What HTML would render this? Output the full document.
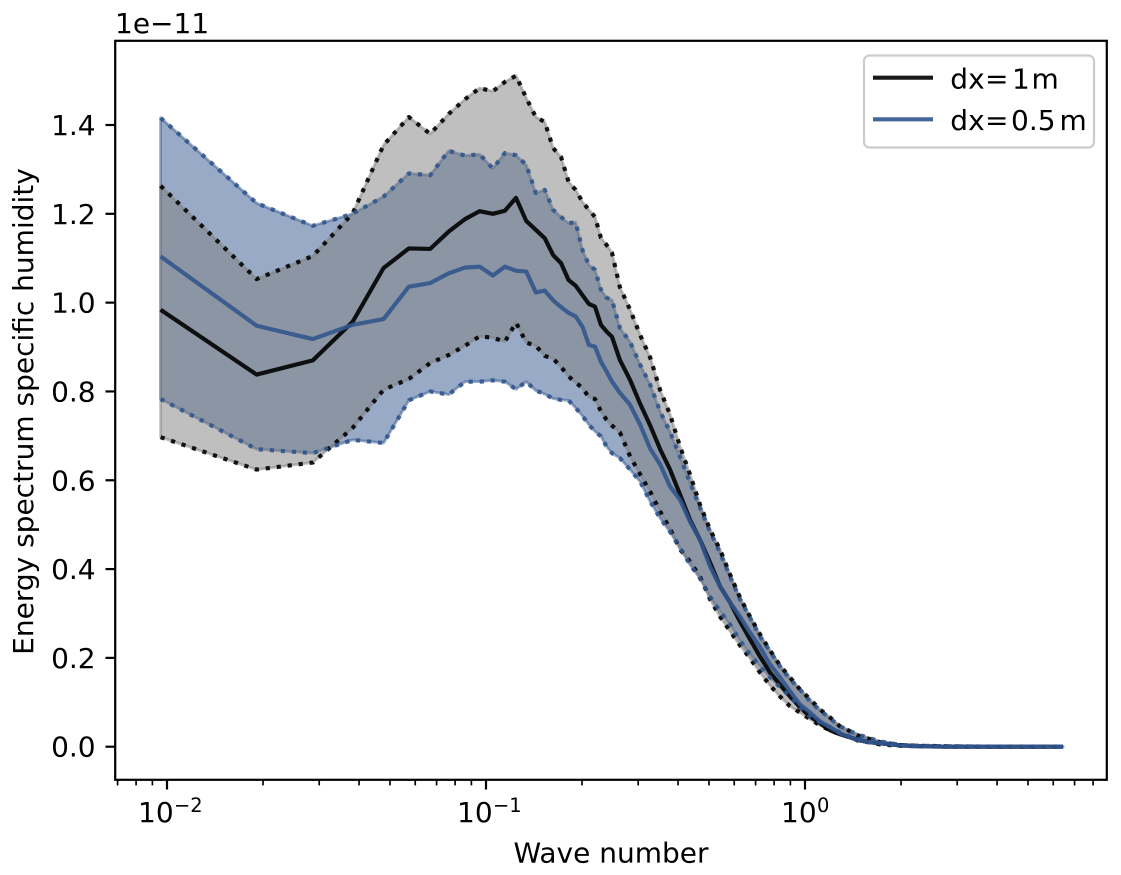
<!DOCTYPE html>
<html>
<head>
<meta charset="utf-8">
<title>Energy spectrum specific humidity</title>
<style>
html,body{margin:0;padding:0;background:#fff;}
svg{display:block;}
text{font-family:"DejaVu Sans",sans-serif;font-size:28px;fill:#000;}
</style>
</head>
<body>
<svg id="chart" xmlns="http://www.w3.org/2000/svg" width="1121" height="875" viewBox="0 0 1121 875">
  <rect x="0" y="0" width="1121" height="875" fill="#fff"/>
  <g id="marks"></g>
  <g id="ticks"></g>
  <rect x="115.2" y="40.8" width="991.6" height="739" fill="none" stroke="#000" stroke-width="2.2"/>
  <text x="115" y="33">1e−11</text>
  <text x="611" y="862.7" text-anchor="middle">Wave number</text>
  <text transform="translate(33,411.5) rotate(-90)" text-anchor="middle">Energy spectrum specific humidity</text>
  <g>
    <rect x="864" y="55.5" width="230" height="92" rx="5.5" ry="5.5" fill="#fff" fill-opacity="0.8" stroke="#ccc" stroke-width="2.2"/>
    <line x1="873" x2="933" y1="77.7" y2="77.7" stroke="#000" stroke-opacity="0.9" stroke-width="4.17"/>
    <text y="88.3"><tspan x="950.3">dx</tspan><tspan x="985">=</tspan><tspan x="1012">1</tspan><tspan x="1031.5">m</tspan></text>
    <line x1="873" x2="933" y1="119.3" y2="119.3" stroke="#31558d" stroke-opacity="0.9" stroke-width="4.17"/>
    <text y="130"><tspan x="950.3">dx</tspan><tspan x="985">=</tspan><tspan x="1011">0.5</tspan><tspan x="1059.5">m</tspan></text>
  </g>
</svg>
<script>
var waveNumbers = [0.00955,0.0191,0.02865,0.0382,0.04775,0.0573,0.06685,0.0764,0.08595,0.0955,0.10505,0.1146,0.12415,0.1337,0.14325,0.1528,0.16235,0.1719,0.18145,0.191,0.20055,0.2101,0.21965,0.2292,0.23875,0.2483,
0.2628,0.2829,0.3043,0.3272,0.3519,0.3775,0.4057,0.4360,0.4687,0.5038,0.5415,0.5820,0.6256,0.6724,0.7227,0.7768,0.8349,0.8974,0.9646,1.0368,1.1143,1.1976,1.2872,1.3836,1.487,1.598,1.718,
1.985,2.293,2.846,4.08,6.44];

var meanDx1 = [.984,.838,.870,.957,1.078,1.122,1.121,1.160,1.188,1.206,1.200,1.207,1.236,1.184,1.164,1.145,1.107,1.089,1.051,1.038,1.017,.997,.991,.950,.935,.923,
.871,.826,.772,.723,.669,.624,.568,.511,.466,.415,.361,.325,.282,.242,.203,.167,.140,.113,.089,.068,.053,.037,.028,.021,.014,.010,.008,
.003,.001,0,0,0];

var upperDx1 = [1.263,1.053,1.105,1.201,1.355,1.418,1.380,1.425,1.458,1.483,1.476,1.497,1.511,1.461,1.418,1.407,1.348,1.328,1.272,1.254,1.227,1.209,1.193,1.146,1.130,1.112,
1.035,.984,.927,.876,.802,.748,.676,.613,.545,.489,.444,.388,.336,.293,.253,.217,.183,.156,.129,.107,.084,.066,.046,.035,.023,.017,.010,
.004,.002,.001,0,0];

var lowerDx1 = [.697,.624,.640,.718,.804,.828,.864,.882,.903,.924,.921,.912,.955,.910,.903,.880,.874,.855,.834,.820,.808,.787,.783,.755,.736,.723,
.708,.654,.613,.574,.529,.491,.444,.417,.383,.332,.293,.260,.228,.199,.167,.138,.113,.091,.077,.062,.048,.037,.028,.021,.012,.010,.005,
.002,.001,0,0,0];

var meanDx05 = [1.104,.948,.918,.950,.963,1.036,1.044,1.066,1.079,1.081,1.061,1.081,1.072,1.070,1.023,1.027,1.005,.990,.977,.969,.946,.905,.901,.867,.845,.822,
.797,.770,.725,.671,.635,.586,.556,.507,.466,.406,.361,.325,.293,.257,.224,.185,.156,.125,.095,.077,.057,.044,.030,.021,.014,.010,.008,
.003,.001,0,0,0];

var upperDx05 = [1.416,1.224,1.173,1.200,1.239,1.291,1.287,1.342,1.331,1.334,1.302,1.337,1.332,1.310,1.247,1.254,1.209,1.193,1.179,1.181,1.119,1.085,1.074,1.029,1.011,1.006,
.943,.912,.860,.815,.754,.709,.653,.595,.538,.484,.437,.383,.332,.291,.248,.215,.181,.152,.129,.102,.082,.064,.046,.035,.026,.019,.012,
.004,.002,.001,0,0];

var lowerDx05 = [.783,.670,.661,.691,.684,.780,.800,.793,.822,.822,.825,.822,.805,.822,.802,.794,.784,.781,.780,.763,.745,.725,.710,.699,.676,.661,
.650,.624,.597,.552,.514,.484,.448,.410,.379,.338,.305,.275,.239,.208,.181,.156,.134,.113,.089,.068,.055,.044,.032,.023,.017,.010,.008,
.003,.001,0,0,0];

var yTickValues = [0,0.2,0.4,0.6,0.8,1.0,1.2,1.4];
var yTickLabels = ["0.0","0.2","0.4","0.6","0.8","1.0","1.2","1.4"];
var xMajorTicks = [0.01,0.1,1];
var xMajorBases = ["10","10","10"];
var xMajorExponents = ["−2","−1","0"];
var xMinorTicks = [0.007,0.008,0.009,0.02,0.03,0.04,0.05,0.06,0.07,0.08,0.09,0.2,0.3,0.4,0.5,0.6,0.7,0.8,0.9,2,3,4,5,6,7,8];

function xScale(k){ return 805 + 319 * Math.log10(k); }
function yScale(v){ return 746.7 - 444.07 * v; }

var NS = "http://www.w3.org/2000/svg";
var marks = document.getElementById("marks");
var ticks = document.getElementById("ticks");

function make(tag, parent){
  var el = document.createElementNS(NS, tag);
  parent.appendChild(el);
  return el;
}
function linePoints(values){
  return values.map(function(v,i){ return xScale(waveNumbers[i]).toFixed(2)+","+yScale(v).toFixed(2); }).join(" ");
}
function bandPoints(upper, lower){
  var top = upper.map(function(v,i){ return xScale(waveNumbers[i]).toFixed(2)+","+yScale(v).toFixed(2); });
  var bottom = lower.map(function(v,i){ return xScale(waveNumbers[i]).toFixed(2)+","+yScale(v).toFixed(2); }).reverse();
  return top.concat(bottom).join(" ");
}
function styleBand(el, color, opacity){
  el.setAttribute("fill", color);
  el.setAttribute("fill-opacity", opacity);
  el.setAttribute("stroke", color);
  el.setAttribute("stroke-opacity", opacity);
  el.setAttribute("stroke-width", "2.78");
  el.setAttribute("stroke-linejoin", "round");
}
function styleLine(el, color, opacity, dotted){
  el.setAttribute("fill", "none");
  el.setAttribute("stroke", color);
  el.setAttribute("stroke-opacity", opacity);
  el.setAttribute("stroke-width", "4.17");
  el.setAttribute("stroke-linejoin", "round");
  if (dotted) { el.setAttribute("stroke-dasharray", "4.17 6.88"); }
}

var bandBlue = make("polygon", marks);


bandBlue.setAttribute("points", bandPoints(upperDx05, lowerDx05));
styleBand(bandBlue, "#31558d", "0.5");

var bandGray = make("polygon", marks);


bandGray.setAttribute("points", bandPoints(upperDx1, lowerDx1));
styleBand(bandGray, "#7f7f7f", "0.5");

var upperBlack = make("polyline", marks);


upperBlack.setAttribute("points", linePoints(upperDx1));
styleLine(upperBlack, "#000", "0.9", true);

var lowerBlack = make("polyline", marks);


lowerBlack.setAttribute("points", linePoints(lowerDx1));
styleLine(lowerBlack, "#000", "0.9", true);

var meanBlack = make("polyline", marks);


meanBlack.setAttribute("points", linePoints(meanDx1));
styleLine(meanBlack, "#000", "0.9", false);

var upperBlue = make("polyline", marks);


upperBlue.setAttribute("points", linePoints(upperDx05));
styleLine(upperBlue, "#31558d", "0.9", true);

var lowerBlue = make("polyline", marks);


lowerBlue.setAttribute("points", linePoints(lowerDx05));
styleLine(lowerBlue, "#31558d", "0.9", true);

var meanBlue = make("polyline", marks);


meanBlue.setAttribute("points", linePoints(meanDx05));
styleLine(meanBlue, "#31558d", "0.9", false);

yTickValues.forEach(function(v, i){
  var y = yScale(v);
  var tick = make("line", ticks);
  
  
  tick.setAttribute("x1", 115.2);
  tick.setAttribute("x2", 105.5);
  tick.setAttribute("y1", y);
  tick.setAttribute("y2", y);
  tick.setAttribute("stroke", "#000");
  tick.setAttribute("stroke-width", "2.2");
  var label = make("text", ticks);
  
  
  label.setAttribute("x", 95.6);
  label.setAttribute("y", y + 10);
  label.setAttribute("text-anchor", "end");
  label.textContent = yTickLabels[i];
});

xMinorTicks.forEach(function(k){
  var x = xScale(k);
  var tick = make("line", ticks);
  
  
  tick.setAttribute("x1", x);
  tick.setAttribute("x2", x);
  tick.setAttribute("y1", 779.8);
  tick.setAttribute("y2", 785.4);
  tick.setAttribute("stroke", "#000");
  tick.setAttribute("stroke-width", "1.67");
});

xMajorTicks.forEach(function(k, i){
  var x = xScale(k);
  var tick = make("line", ticks);
  
  
  tick.setAttribute("x1", x);
  tick.setAttribute("x2", x);
  tick.setAttribute("y1", 779.8);
  tick.setAttribute("y2", 789.5);
  tick.setAttribute("stroke", "#000");
  tick.setAttribute("stroke-width", "2.2");
  var label = make("text", ticks);
  
  
  label.setAttribute("y", 822);
  var offset = xMajorExponents[i] === "0" ? 24 : 29;
  var base = make("tspan", label);
  
  
  base.setAttribute("x", x - offset);
  base.textContent = xMajorBases[i];
  var exp = make("tspan", label);
  
  
  exp.setAttribute("x", x - offset + 36);
  exp.setAttribute("y", 812);
  exp.setAttribute("style", "font-size:19.45px");
  exp.textContent = xMajorExponents[i];
});
</script>
</body>
</html>
